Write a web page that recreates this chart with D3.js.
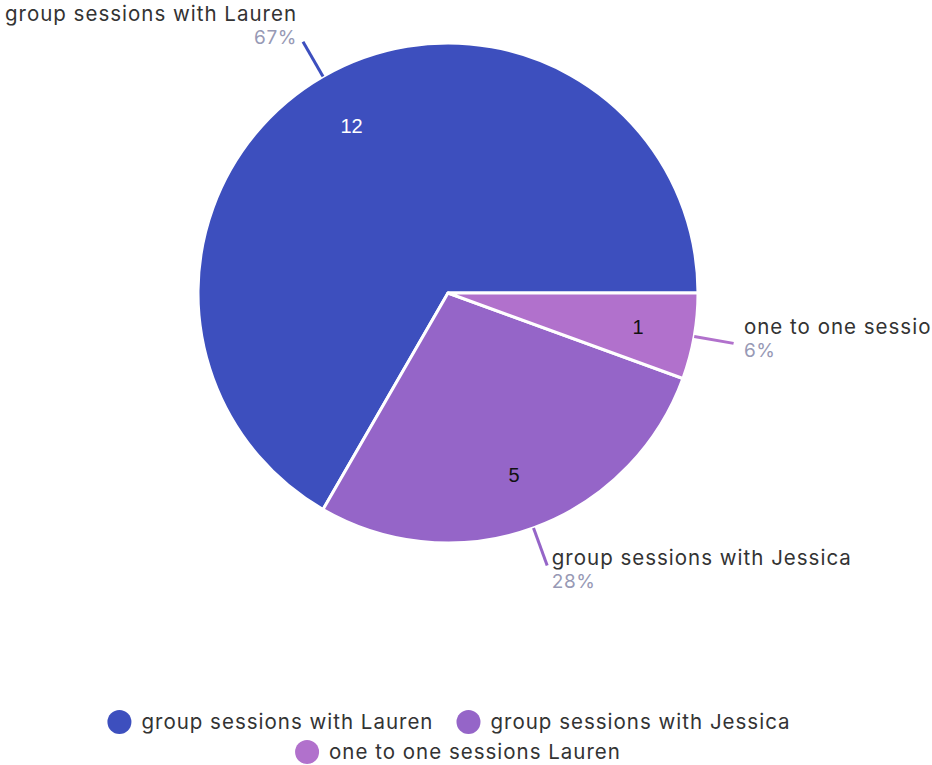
<!DOCTYPE html>
<html>
<head>
<meta charset="utf-8">
<script src="https://cdn.jsdelivr.net/npm/d3@7/dist/d3.min.js"></script>
<style>
  html, body { margin: 0; padding: 0; background: #fff; }
  svg { display: block; }
  text { font-family: Inter, "Noto Sans", sans-serif; }
</style>
</head>
<body>
<svg id="chart" width="932" height="765"></svg>
<script>
// Session counts per category
const categories = ["group sessions with Lauren", "group sessions with Jessica", "one to one sessions Lauren"];
const values = [12, 5, 1];
const colors = ["#3d4fbe", "#9565c8", "#b171cc"];

const width = 932, height = 765;
const cx = 448, cy = 293, radius = 250;

const svg = d3.select("#chart");
const g = svg.append("g").attr("transform", `translate(${cx},${cy})`);

const total = d3.sum(values);
const data = categories.map((c, i) => ({ name: c, value: values[i], color: colors[i] }));

// Slices run counter-clockwise starting at 3 o'clock
const pie = d3.pie().value(d => d.value).sort(null)
  .startAngle(Math.PI / 2 + 2 * Math.PI)
  .endAngle(Math.PI / 2);
const arcs = pie(data);

const arc = d3.arc().innerRadius(0).outerRadius(radius);
const valueArc = d3.arc().innerRadius(radius * 0.772).outerRadius(radius * 0.772);

g.selectAll("path.slice").data(arcs).join("path")
  .attr("class", "slice")
  .attr("d", arc)
  .attr("fill", d => d.data.color)
  .attr("stroke", "#fff")
  .attr("stroke-width", 3)
  .attr("stroke-linejoin", "round");

// Value labels inside the slices
g.selectAll("text.val").data(arcs).join("text")
  .attr("class", "val")
  .attr("transform", d => `translate(${valueArc.centroid(d)})`)
  .attr("text-anchor", "middle")
  .attr("dy", "0.36em")
  .style("font-family", "'Liberation Sans', Arial, sans-serif")
  .style("font-size", "20px")
  .attr("fill", d => d.data.value >= 10 ? "#fff" : "#111")
  .text(d => d.data.value);

// Leader lines and outer labels
const midAngle = d => (d.startAngle + d.endAngle) / 2;
const pt = (a, r) => [Math.sin(a) * r, -Math.cos(a) * r];

g.selectAll("line.leader").data(arcs).join("line")
  .attr("class", "leader")
  .attr("x1", d => pt(midAngle(d), radius)[0])
  .attr("y1", d => pt(midAngle(d), radius)[1])
  .attr("x2", d => pt(midAngle(d), radius + 40)[0])
  .attr("y2", d => pt(midAngle(d), radius + 40)[1])
  .attr("stroke", d => d.data.color)
  .attr("stroke-width", 3);

const labels = g.selectAll("g.outer").data(arcs).join("g")
  .attr("class", "outer")
  .attr("transform", d => {
    const a = midAngle(d);
    const [x, y] = pt(a, radius + 40);
    const s = Math.sin(a);
    const dx = 9 * s + (s > 0 ? 1.5 : -1.5);
    const dy = -11 - 11 * Math.cos(a);
    return `translate(${x + dx},${y + dy})`;
  })
  .attr("text-anchor", d => Math.sin(midAngle(d)) > 0 ? "start" : "end");

labels.append("text")
  .style("font-size", "20.5px")
  .style("letter-spacing", "1px")
  .attr("fill", "#333")
  .text(d => d.data.name);

labels.append("text")
  .attr("y", 23)
  .style("font-size", "19px")
  .style("letter-spacing", "0.6px")
  .attr("fill", "#9799b5")
  .text(d => Math.round(d.data.value / total * 100) + "%");

// Legend rows, centered under the pie
const legendRows = [[0, 1], [2]];
const rowY = [722, 752];
const rowCenter = [cx + 1, cx + 10];
legendRows.forEach((row, ri) => {
  const rowG = svg.append("g");
  let x = 0;
  row.forEach(i => {
    const item = rowG.append("g").attr("transform", `translate(${x},0)`);
    item.append("circle").attr("cx", 12).attr("cy", 0).attr("r", 12).attr("fill", colors[i]);
    const t = item.append("text").attr("x", 34).attr("y", 7)
      .style("font-size", "20.5px").style("letter-spacing", "1px")
      .attr("fill", "#333").text(categories[i]);
    x += 34 + t.node().getComputedTextLength() + 23;
  });
  const w = x - 23;
  rowG.attr("transform", `translate(${rowCenter[ri] - w / 2},${rowY[ri]})`);
});
</script>
</body>
</html>
